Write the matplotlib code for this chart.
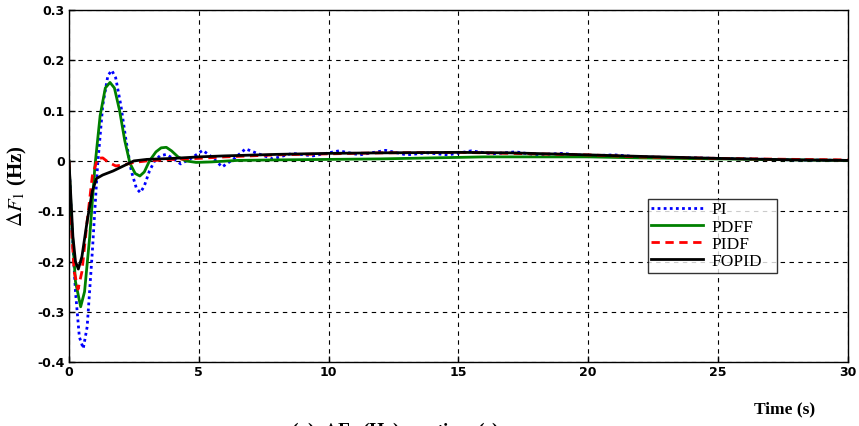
import matplotlib.pyplot as plt

plt.rcParams['mathtext.fontset'] = 'stix'

# PI response
t_pi = [0, 0.1, 0.25, 0.4, 0.55, 0.7, 0.9, 1.1, 1.3, 1.5, 1.65, 1.8, 2.0, 2.2, 2.4, 2.6, 2.75, 2.9,
        3.1, 3.3, 3.5, 3.75, 4.0, 4.3, 4.7, 5.15, 5.5, 5.9, 6.35, 6.8, 7.3, 7.85, 8.6, 9.4, 10.4,
        11.2, 12.2, 13.0, 13.8, 14.6, 15.5, 16.3, 17.2, 18.0, 19.0, 20.0, 21.0, 22.0, 24.0, 26.0,
        28.0, 30.0]
y_pi = [0, -0.12, -0.26, -0.35, -0.373, -0.33, -0.18, -0.01, 0.11, 0.17, 0.18, 0.165, 0.11, 0.04,
        -0.02, -0.055, -0.063, -0.05, -0.02, 0.0, 0.01, 0.013, 0.005, -0.006, 0.005, 0.021, 0.008,
        -0.012, 0.004, 0.024, 0.014, 0.004, 0.015, 0.01, 0.02, 0.012, 0.021, 0.012, 0.016, 0.012,
        0.02, 0.014, 0.018, 0.012, 0.015, 0.01, 0.012, 0.008, 0.006, 0.004, 0.002, 0.001]

# PDFF response
t_pdff = [0, 0.1, 0.25, 0.45, 0.6, 0.8, 1.0, 1.2, 1.4, 1.58, 1.75, 1.95, 2.15, 2.35, 2.55, 2.73,
          2.9, 3.1, 3.35, 3.55, 3.75, 3.95, 4.2, 4.5, 4.9, 5.5, 6.5, 8, 10, 12, 14, 16, 18, 20,
          22, 25, 28, 30]
y_pdff = [0, -0.12, -0.24, -0.29, -0.26, -0.15, -0.01, 0.09, 0.145, 0.156, 0.145, 0.1, 0.04,
          -0.005, -0.025, -0.03, -0.022, 0.0, 0.018, 0.026, 0.027, 0.02, 0.008, 0.0, -0.003,
          -0.002, 0.001, 0.002, 0.003, 0.004, 0.006, 0.008, 0.008, 0.008, 0.006, 0.004, 0.002,
          0.001]

# PIDF response
t_pidf = [0, 0.08, 0.2, 0.35, 0.5, 0.7, 0.9, 1.1, 1.3, 1.5, 1.8, 2.1, 2.5, 3, 4, 5, 6, 8, 10,
          12, 15, 18, 20, 22, 25, 28, 30]
y_pidf = [0, -0.12, -0.22, -0.255, -0.22, -0.12, -0.03, 0.005, 0.006, -0.002, -0.01, -0.008,
          -0.003, 0.0, 0.003, 0.005, 0.008, 0.012, 0.014, 0.016, 0.017, 0.014, 0.012, 0.008,
          0.005, 0.003, 0.002]

# FOPID response
t_fopid = [0, 0.05, 0.15, 0.25, 0.36, 0.5, 0.7, 0.9, 1.06, 1.3, 1.7, 2.1, 2.5, 3, 4, 5, 6, 8,
           10, 12, 15, 17, 20, 22, 25, 28, 30]
y_fopid = [0, -0.05, -0.15, -0.2, -0.215, -0.19, -0.12, -0.06, -0.035, -0.028, -0.02, -0.01,
           0.0, 0.003, 0.005, 0.008, 0.01, 0.013, 0.015, 0.016, 0.017, 0.016, 0.012, 0.009,
           0.005, 0.002, 0.001]

xticks = [0, 5, 10, 15, 20, 25, 30]
yticks = [0.3, 0.2, 0.1, 0, -0.1, -0.2, -0.3, -0.4]
ytick_labels = ['0.3', '0.2', '0.1', '0', '-0.1', '-0.2', '-0.3', '-0.4']

fig = plt.figure(figsize=(8.59, 4.26), dpi=100)
ax = fig.add_axes([0.0803, 0.150, 0.9067, 0.8265])

ax.plot(t_pi, y_pi, color='#0000ff', linestyle=(0, (1, 1.2)), lw=2.0, label='PI')
ax.plot(t_pdff, y_pdff, color='#008000', lw=2.0, label='PDFF')
ax.plot(t_pidf, y_pidf, color='#ff0000', linestyle=(0, (3, 2)), lw=2.0, label='PIDF')
ax.plot(t_fopid, y_fopid, color='black', lw=2.0, label='FOPID')

ax.set_xlim(0, 30)
ax.set_ylim(-0.4, 0.3)
ax.set_xticks(xticks)
ax.set_xticklabels([str(v) for v in xticks], fontweight='bold', fontsize=9)
ax.set_yticks(yticks)
ax.set_yticklabels(ytick_labels, fontweight='bold', fontsize=9)
ax.tick_params(direction='in', length=4, width=1, pad=3)
ax.grid(True, color='black', linestyle=(0, (4, 4)), lw=0.8)
for s in ax.spines.values():
    s.set_linewidth(1.0)

ax.set_ylabel(r'$\Delta F_1$ (Hz)', family='Liberation Serif', fontweight='bold', fontsize=15,
              labelpad=6)

leg = ax.legend(loc='lower left', bbox_to_anchor=(0.743, 0.253, 0.166, 0.222), mode='expand',
                prop={'family': 'Liberation Serif', 'size': 12.5}, frameon=True, fancybox=False,
                edgecolor='black', borderpad=0.2, labelspacing=0.05, handlelength=3.0,
                handletextpad=0.5, borderaxespad=0)
leg.get_frame().set_linewidth(1.0)

fig.text(0.913, 0.038, 'Time (s)', family='Liberation Serif', fontweight='bold', fontsize=12.5,
         ha='center', va='center')
fig.text(0.46, 0.012, r'(a)  $\Delta$F$_1$ (Hz)  vs  time (s)', family='Liberation Serif',
         fontweight='bold', fontsize=14, ha='center', va='top')

fig.savefig('out.png', dpi=100)
